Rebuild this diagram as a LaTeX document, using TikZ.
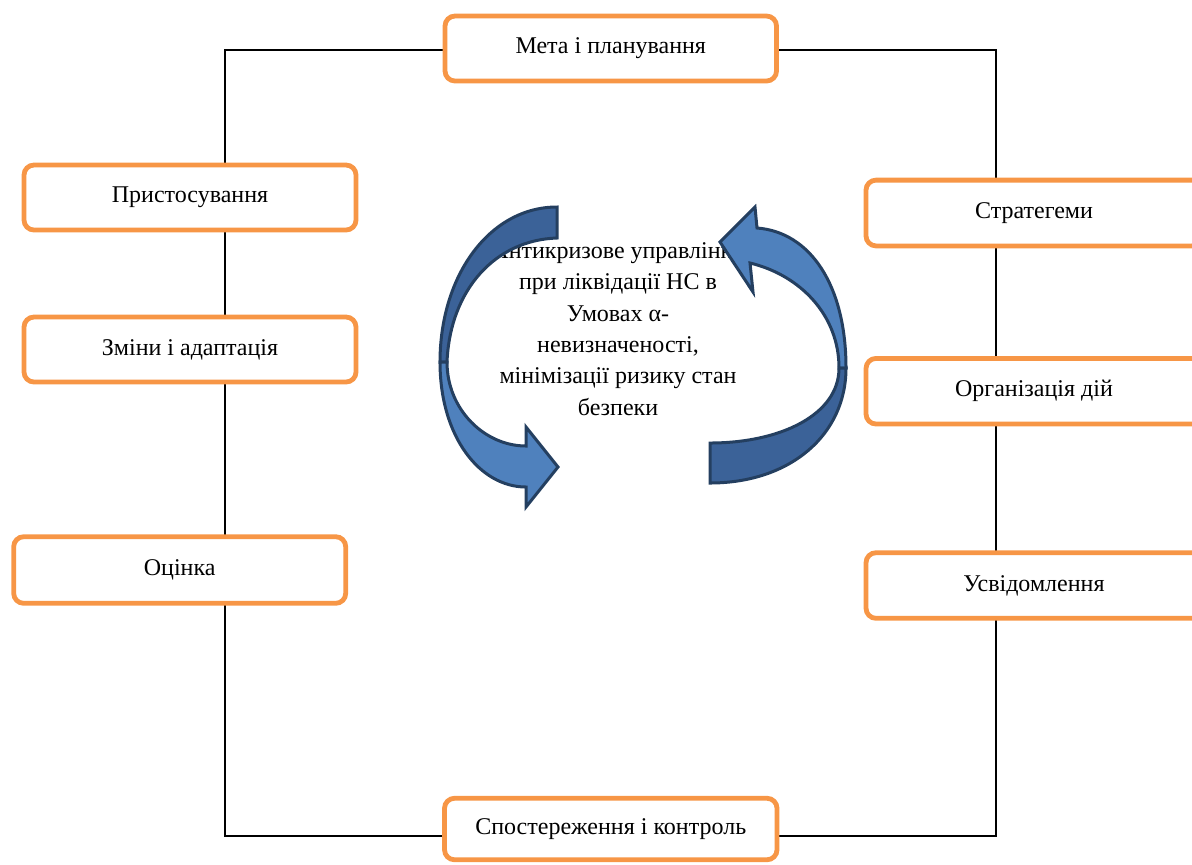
\documentclass[tikz,border=0pt]{standalone}
\usepackage{fontspec}
\setmainfont{Liberation Serif}
\usetikzlibrary{backgrounds}
\definecolor{boxorange}{HTML}{F79646}
\definecolor{arrlight}{HTML}{4F81BD}
\definecolor{arrdark}{HTML}{3B6298}
\definecolor{arrline}{HTML}{243F60}
\tikzset{
  stagebox/.style={draw=boxorange, line width=2.4pt, rounded corners=5pt, fill=white,
    inner sep=0pt, minimum height=32.5pt, font=\fontsize{12}{14}\selectfont},
  connline/.style={draw=black, line width=0.75pt},
  arrfront/.style={fill=arrlight, draw=arrline, line width=1.5pt, line join=miter},
  arrback/.style={fill=arrdark, draw=arrline, line width=1.5pt, line join=miter}
}
\begin{document}
\begin{tikzpicture}[x=0.5pt,y=-0.5pt]
\useasboundingbox (0,0) rectangle (1192,864);
% boxes
\node[stagebox, minimum width=165.75pt] (meta) at (610.75,48.5) {Мета і планування};
\node[stagebox, minimum width=166pt] (prist) at (190,197.5) {Пристосування};
\node[stagebox, minimum width=166pt] (zminy) at (190,349.5) {Зміни і адаптація};
\node[stagebox, minimum width=166pt, minimum height=33.3pt] (otsinka) at (179.7,570) {Оцінка};
\node[stagebox, minimum width=168pt, minimum height=32.9pt] (strat) at (1034,213) {Стратегеми};
\node[stagebox, minimum width=168pt, minimum height=32.8pt] (orgdiy) at (1034,391.2) {Організація дій};
\node[stagebox, minimum width=168pt, minimum height=32.8pt] (usvid) at (1034,585.5) {Усвідомлення};
\node[stagebox, minimum width=166.25pt, minimum height=30.75pt] (sposter) at (610.75,829) {Спостереження і контроль};
% frame corners
\coordinate (tl) at (225,50);
\coordinate (tr) at (996,50);
\coordinate (bl) at (225,836);
\coordinate (br) at (996,836);
\begin{scope}[on background layer]
  \draw[connline] (meta.west |- tl) -- (tl) -- (bl) -- (bl -| sposter.west);
  \draw[connline] (meta.east |- tr) -- (tr) -- (br) -- (br -| sposter.east);
\end{scope}
% central text
\node[align=center, inner sep=0pt, font=\fontsize{12}{15.65}\selectfont] (centre) at (618,329)
  {Антикризове управління\\при ліквідації НС в\\Умовах α-\\невизначеності,\\мінімізації ризику стан\\безпеки};
% left curved arrow
\path[arrback] (557,207) .. controls (490,207) and (440,275) .. (440,362)
  -- (447,362) .. controls (450,290) and (495,240) .. (557,238) -- cycle;
\path[arrfront] (440,362) .. controls (440,437) and (480,487) .. (526,487)
  -- (526,507) -- (558,467) -- (526,427) -- (526,446)
  .. controls (485,446) and (447,410) .. (447,362) -- cycle;
% right curved arrow
\path[arrfront] (846,368) .. controls (846,285) and (810,232) .. (757,228)
  -- (755,207) -- (720,242) -- (753,292) -- (750,263)
  .. controls (800,275) and (839,315) .. (839,368) -- cycle;
\path[arrback] (846,368) .. controls (846,435) and (790,483) .. (710,483)
  -- (710,443) .. controls (780,443) and (839,415) .. (839,368) -- cycle;
\end{tikzpicture}
\end{document}
